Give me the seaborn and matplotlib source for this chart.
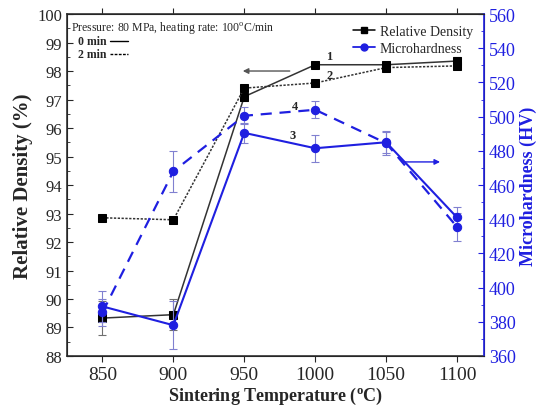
import numpy as np
import pandas as pd
import seaborn as sns
import matplotlib.pyplot as plt
from matplotlib.lines import Line2D
from matplotlib.ticker import MultipleLocator

# data
temps = [850, 900, 950, 1000, 1050, 1100]
dens_0min = [89.33, 89.45, 97.1, 98.22, 98.22, 98.35]
dens_2min = [92.85, 92.78, 97.4, 97.58, 98.12, 98.18]
dens_0min_err = [0.6, 0.55, 0.15, 0.1, 0.1, 0.15]
dens_2min_err = [0.1, 0.1, 0.1, 0.1, 0.1, 0.1]
hv_0min = [389, 378, 490.5, 481.5, 485, 441]
hv_2min = [385.5, 468, 500.5, 504, 484.5, 435.5]
hv_0min_err = [9, 14, 6, 8, 6, 6]
hv_2min_err = [8, 12, 5, 5, 7, 8]

blue = '#1f1fe0'

sns.set_style('ticks')
plt.rcParams['font.family'] = ['Liberation Serif', 'DejaVu Serif']
plt.rcParams['mathtext.fontset'] = 'stix'

fig = plt.figure(figsize=(5.46, 4.06), dpi=100)
ax = fig.add_axes([0.1227, 0.1207, 0.7637, 0.8423])
ax2 = ax.twinx()

df = pd.DataFrame({'T': temps, 'd0': dens_0min, 'd2': dens_2min,
                   'h0': hv_0min, 'h2': hv_2min})

# relative density
ax.errorbar(temps, dens_0min, yerr=dens_0min_err, fmt='none', ecolor='#707070',
            elinewidth=0.8, capsize=3, capthick=0.8)
ax.errorbar(temps, dens_2min, yerr=dens_2min_err, fmt='none', ecolor='#707070',
            elinewidth=0.8, capsize=3, capthick=0.8)
sns.lineplot(data=df, x='T', y='d0', ax=ax, color='#333333', lw=1.1,
             marker='s', markersize=5.5, markerfacecolor='black', markeredgecolor='black')
sns.lineplot(data=df, x='T', y='d2', ax=ax, color='#333333', lw=1.1, linestyle=(0, (1.5, 1)),
             marker='s', markersize=5.5, markerfacecolor='black', markeredgecolor='black')

# microhardness
ax2.errorbar(temps, hv_0min, yerr=hv_0min_err, fmt='none', ecolor='#8080d0',
             elinewidth=0.8, capsize=3, capthick=0.8)
ax2.errorbar(temps, hv_2min, yerr=hv_2min_err, fmt='none', ecolor='#8080d0',
             elinewidth=0.8, capsize=3, capthick=0.8)
sns.lineplot(data=df, x='T', y='h0', ax=ax2, color=blue, lw=1.5,
             marker='o', markersize=6, markerfacecolor=blue, markeredgecolor=blue)
sns.lineplot(data=df, x='T', y='h2', ax=ax2, color=blue, lw=1.6, linestyle=(0, (5, 3.5)),
             marker='o', markersize=6, markerfacecolor=blue, markeredgecolor=blue)

ax.set_xlim(825, 1119)
ax.set_ylim(88, 100)
ax2.set_ylim(360, 560)
ax.set_xticks([850, 900, 950, 1000, 1050, 1100])
ax.yaxis.set_major_locator(MultipleLocator(1))
ax.yaxis.set_minor_locator(MultipleLocator(0.5))
ax2.yaxis.set_major_locator(MultipleLocator(20))
ax2.yaxis.set_minor_locator(MultipleLocator(10))

ax.tick_params(axis='x', direction='out', labelsize=14, top=True, length=4)
ax.tick_params(axis='y', direction='in', labelsize=12, length=4)
ax.tick_params(axis='y', which='minor', direction='in', length=2.5)
ax2.tick_params(axis='y', direction='in', labelsize=13, colors=blue, length=4)
ax2.tick_params(axis='y', which='minor', direction='in', colors=blue, length=2.5)
ax2.spines['right'].set_color(blue)
ax2.spines['right'].set_linewidth(1.2)
for s in ['left', 'bottom', 'top']:
    ax.spines[s].set_color('#333333')
    ax.spines[s].set_linewidth(1.2)

ax.set_xlabel('Sintering Temperature ($\\mathregular{^{o}}$C)', fontsize=13, fontweight='bold', labelpad=1)
ax.set_ylabel('Relative Density (%)', fontsize=15, fontweight='bold', labelpad=3)
ax2.set_ylabel('Microhardness (HV)', fontsize=13, fontweight='bold', color=blue, labelpad=3)

# annotations
ax.text(828, 99.45, 'Pressure: 80 MPa, heating rate: 100$\\mathregular{^{o}}$C/min', fontsize=8.5)
ax.text(833, 98.95, '0 min', fontsize=8.5, fontweight='bold')
ax.text(833, 98.5, '2 min', fontsize=8.5, fontweight='bold')
ax.plot([855, 868], [99.05, 99.05], color='black', lw=1)
ax.plot([855, 868], [98.6, 98.6], color='black', lw=1, linestyle=(0, (2, 1)))
ax.text(1010, 98.53, '1', fontsize=9, fontweight='bold', ha='center', va='center')
ax.text(1010, 97.86, '2', fontsize=9, fontweight='bold', ha='center', va='center')
ax2.text(984, 489, '3', fontsize=9, fontweight='bold', ha='center', va='center')
ax2.text(986, 506, '4', fontsize=9, fontweight='bold', ha='center', va='center')
ax.annotate('', xy=(947, 98.0), xytext=(984, 98.0),
            arrowprops=dict(arrowstyle='-|>', color='#555555', lw=1, mutation_scale=8))
ax2.annotate('', xy=(1090, 473.5), xytext=(1060, 473.5),
             arrowprops=dict(arrowstyle='-|>', color=blue, lw=1, mutation_scale=8))

handles = [Line2D([], [], color='black', marker='s', markersize=5, lw=1.1),
           Line2D([], [], color=blue, marker='o', markersize=5, lw=1.3)]
ax.legend(handles, ['Relative Density', 'Microhardness'], loc='upper right',
          bbox_to_anchor=(1.0, 1.0), frameon=False, fontsize=10, handlelength=1.6,
          handletextpad=0.3, borderpad=0.3, labelspacing=0.3)

fig.savefig('out.png', dpi=100)
